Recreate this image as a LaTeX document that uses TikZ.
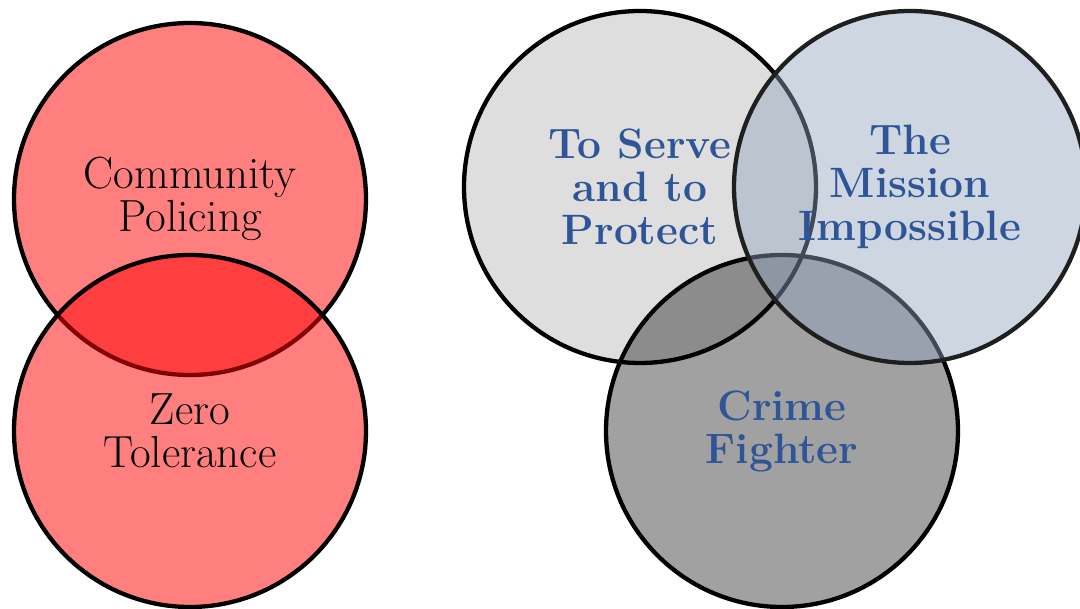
\documentclass[tikz,border=0pt]{standalone}
\usepackage{fontspec}
\definecolor{txtblue}{RGB}{47,85,151}
\definecolor{trfill}{RGB}{146,164,191}
\begin{document}
\begin{tikzpicture}[x=1pt,y=-1pt,
  venn/.style={circle, draw=black, line width=4.3pt, minimum size=352pt, inner sep=0pt, align=center,
    font=\fontsize{45}{43}\selectfont},
  redc/.style={venn, fill=red, fill opacity=0.5, text opacity=1, text=black},
  bluetxt/.style={venn, font=\fontsize{42.5}{43}\selectfont\bfseries, text=txtblue, text opacity=1}]
\useasboundingbox (0,0) rectangle (1080,609);
\node[redc] (cp) at (190,199) {Community\\Policing};
\node[redc] (zt) at (190,431) {Zero\\Tolerance};
\node[bluetxt, fill=black, fill opacity=0.13] (sp) at (640,187) {To Serve\\and to\\Protect};
\node[bluetxt, fill=black, fill opacity=0.37] (cf) at (782,431) {Crime\\Fighter};
\node[bluetxt, fill=trfill, fill opacity=0.45, draw=black!88] (mi) at (910,187) {The\\Mission\\Impossible};
\end{tikzpicture}
\end{document}
